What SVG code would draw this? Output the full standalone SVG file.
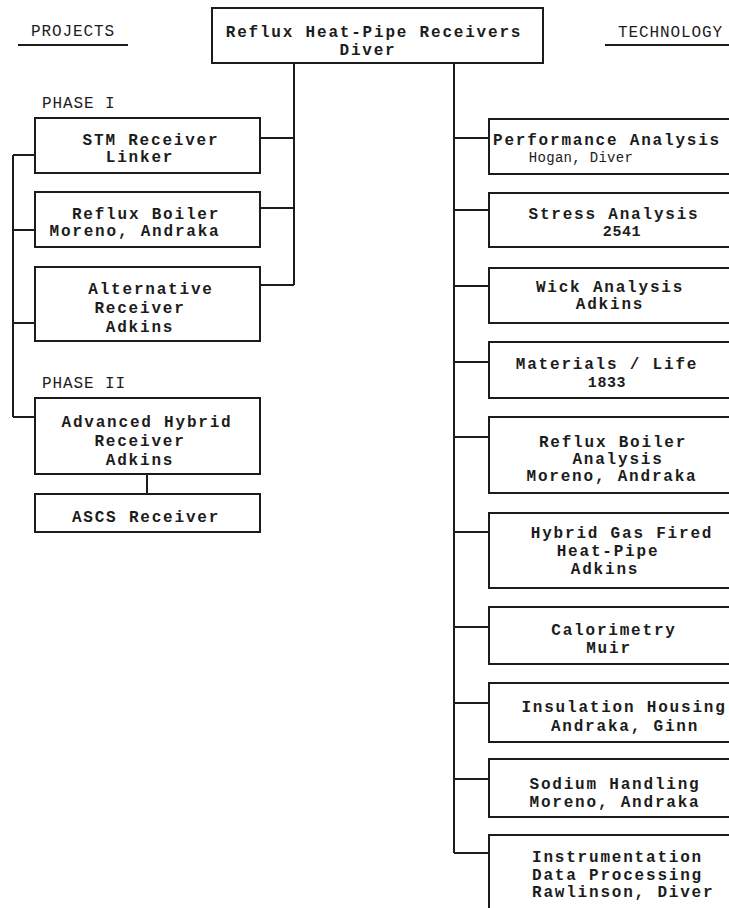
<svg xmlns="http://www.w3.org/2000/svg" width="729" height="908" viewBox="0 0 729 908">
<style>
.bg{fill:#ffffff}
.box{fill:#ffffff;stroke:#1c1c1c;stroke-width:2}
.ln{fill:none;stroke:#1c1c1c;stroke-width:2}
.t{font-family:"Liberation Mono","DejaVu Sans Mono",monospace;font-weight:bold;font-size:16px;letter-spacing:1.8px;text-anchor:middle;fill:#1c1c1c}
.s{font-family:"Liberation Mono","DejaVu Sans Mono",monospace;font-size:14px;letter-spacing:0.3px;text-anchor:middle;fill:#1c1c1c}
.n{font-family:"Liberation Mono","DejaVu Sans Mono",monospace;font-weight:bold;font-size:15px;letter-spacing:0.6px;text-anchor:middle;fill:#1c1c1c}
.h{font-family:"Liberation Mono","DejaVu Sans Mono",monospace;font-size:16px;letter-spacing:0.9px;fill:#1c1c1c}
.l{text-anchor:start}
</style>
<rect class="bg" x="0" y="0" width="729" height="908"/>

<g id="headings">
  <text class="h" x="31" y="36">PROJECTS</text>
  <line class="ln" x1="18" y1="45" x2="128" y2="45" stroke-width="1.5"/>
  <text class="h" x="618" y="37">TECHNOLOGY</text>
  <line class="ln" x1="605" y1="45" x2="729" y2="45" stroke-width="1.5"/>
  <text class="h" x="42" y="108">PHASE I</text>
  <text class="h" x="42" y="388">PHASE II</text>
</g>

<g id="connectors">
  <line class="ln" x1="294" y1="63" x2="294" y2="285"/>
  <line class="ln" x1="260" y1="138" x2="294" y2="138"/>
  <line class="ln" x1="260" y1="208" x2="294" y2="208"/>
  <line class="ln" x1="260" y1="285" x2="294" y2="285"/>
  <line class="ln" x1="454" y1="63" x2="454" y2="853"/>
  <line class="ln" x1="454" y1="138" x2="489" y2="138"/>
  <line class="ln" x1="454" y1="210" x2="489" y2="210"/>
  <line class="ln" x1="454" y1="286" x2="489" y2="286"/>
  <line class="ln" x1="454" y1="362" x2="489" y2="362"/>
  <line class="ln" x1="454" y1="437" x2="489" y2="437"/>
  <line class="ln" x1="454" y1="532" x2="489" y2="532"/>
  <line class="ln" x1="454" y1="627" x2="489" y2="627"/>
  <line class="ln" x1="454" y1="703" x2="489" y2="703"/>
  <line class="ln" x1="454" y1="779" x2="489" y2="779"/>
  <line class="ln" x1="454" y1="853" x2="489" y2="853"/>
  <line class="ln" x1="13" y1="155" x2="13" y2="417"/>
  <line class="ln" x1="13" y1="155" x2="35" y2="155"/>
  <line class="ln" x1="13" y1="230" x2="35" y2="230"/>
  <line class="ln" x1="13" y1="323" x2="35" y2="323"/>
  <line class="ln" x1="13" y1="417" x2="35" y2="417"/>
  <line class="ln" x1="147" y1="474" x2="147" y2="494"/>
</g>

<g id="root">
  <rect class="box" x="212" y="8" width="331" height="55"/>
  <text class="t" x="374" y="37">Reflux Heat-Pipe Receivers</text>
  <text class="t" x="368" y="55">Diver</text>
</g>

<g id="stm">
  <rect class="box" x="35" y="118" width="225" height="55"/>
  <text class="t" x="151" y="145">STM Receiver</text>
  <text class="t" x="140" y="162">Linker</text>
</g>
<g id="reflux-boiler">
  <rect class="box" x="35" y="192" width="225" height="55"/>
  <text class="t" x="146" y="219">Reflux Boiler</text>
  <text class="t" x="135" y="236">Moreno, Andraka</text>
</g>
<g id="alternative">
  <rect class="box" x="35" y="267" width="225" height="74"/>
  <text class="t" x="151" y="294">Alternative</text>
  <text class="t" x="140" y="313">Receiver</text>
  <text class="t" x="140" y="332">Adkins</text>
</g>
<g id="advanced-hybrid">
  <rect class="box" x="35" y="398" width="225" height="76"/>
  <text class="t" x="147" y="427">Advanced Hybrid</text>
  <text class="t" x="140" y="446">Receiver</text>
  <text class="t" x="140" y="465">Adkins</text>
</g>
<g id="ascs">
  <rect class="box" x="35" y="494" width="225" height="38"/>
  <text class="t" x="146" y="522">ASCS Receiver</text>
</g>

<g id="performance">
  <rect class="box" x="489" y="119" width="243" height="55"/>
  <text class="t" x="607" y="145">Performance Analysis</text>
  <text class="s" x="581" y="162">Hogan, Diver</text>
</g>
<g id="stress">
  <rect class="box" x="489" y="193" width="243" height="54"/>
  <text class="t" x="614" y="219">Stress Analysis</text>
  <text class="n" x="622" y="236">2541</text>
</g>
<g id="wick">
  <rect class="box" x="489" y="268" width="243" height="55"/>
  <text class="t" x="610" y="292">Wick Analysis</text>
  <text class="t" x="610" y="309">Adkins</text>
</g>
<g id="materials">
  <rect class="box" x="489" y="342" width="243" height="56"/>
  <text class="t" x="607" y="369">Materials / Life</text>
  <text class="n" x="607" y="387">1833</text>
</g>
<g id="reflux-analysis">
  <rect class="box" x="489" y="417" width="243" height="76"/>
  <text class="t" x="613" y="447">Reflux Boiler</text>
  <text class="t" x="618" y="464">Analysis</text>
  <text class="t" x="612" y="481">Moreno, Andraka</text>
</g>
<g id="hybrid-gas">
  <rect class="box" x="489" y="513" width="243" height="75"/>
  <text class="t" x="622" y="538">Hybrid Gas Fired</text>
  <text class="t" x="608" y="556">Heat-Pipe</text>
  <text class="t" x="605" y="574">Adkins</text>
</g>
<g id="calorimetry">
  <rect class="box" x="489" y="607" width="243" height="57"/>
  <text class="t" x="614" y="635">Calorimetry</text>
  <text class="t" x="609" y="653">Muir</text>
</g>
<g id="insulation">
  <rect class="box" x="489" y="683" width="243" height="59"/>
  <text class="t" x="624" y="712">Insulation Housing</text>
  <text class="t" x="625" y="731">Andraka, Ginn</text>
</g>
<g id="sodium">
  <rect class="box" x="489" y="759" width="243" height="58"/>
  <text class="t" x="615" y="789">Sodium Handling</text>
  <text class="t" x="615" y="807">Moreno, Andraka</text>
</g>
<g id="instrumentation">
  <rect class="box" x="489" y="835" width="243" height="80"/>
  <text class="t l" x="532" y="862">Instrumentation</text>
  <text class="t l" x="532" y="880">Data Processing</text>
  <text class="t l" x="532" y="897">Rawlinson, Diver</text>
</g>
</svg>
